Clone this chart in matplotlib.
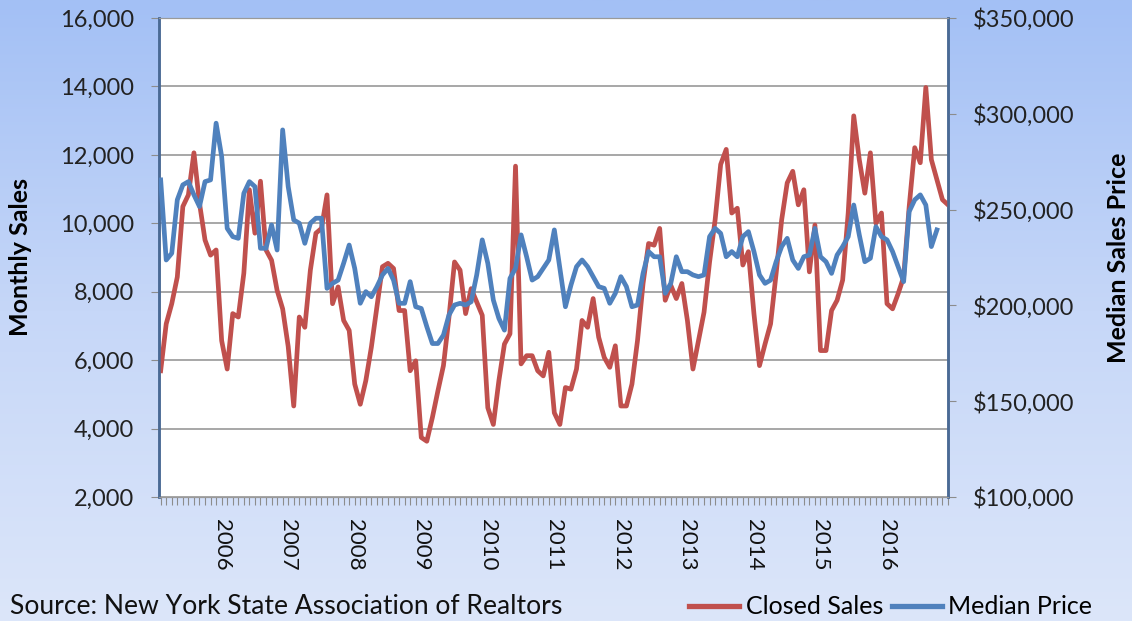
import matplotlib
matplotlib.use("Agg")
import matplotlib.pyplot as plt
import numpy as np
from matplotlib.lines import Line2D
from matplotlib.ticker import FuncFormatter, MultipleLocator, FixedLocator
from matplotlib.colors import LinearSegmentedColormap

# ---- data (monthly, Feb 2005 onward) ----
closed_sales = [
    5690, 7060, 7650, 8430, 10490, 10830, 12060, 10590, 9510, 9070, 9220, 6570,
    5740, 7360, 7260, 8540, 10980, 9710, 11230, 9220, 8920, 8040, 7500, 6400,
    4660, 7260, 6960, 8630, 9710, 9850, 10830, 7650, 8140, 7160, 6870, 5300,
    4710, 5400, 6380, 7550, 8730, 8830, 8680, 7450, 7450, 5690, 5980, 3740,
    3630, 4320, 5100, 5840, 7260, 8870, 8630, 7360, 8090, 7700, 7310, 4610,
    4120, 5400, 6470, 6770, 11670, 5890, 6130, 6130, 5690, 5540, 6230, 4460,
    4120, 5200, 5150, 5740, 7160, 6960, 7800, 6670, 6080, 5790, 6420, 4660,
    4660, 5300, 6570, 8240, 9410, 9360, 9850, 7750, 8190, 7800, 8240, 7160,
    5740, 6570, 7400, 8870, 10100, 11720, 12160, 10300, 10440, 8780, 9170, 7360,
    5840, 6470, 7060, 8530, 10100, 11180, 11520, 10540, 10980, 8580, 9950, 6280,
    6280, 7450, 7750, 8340, 10300, 13140, 11860, 10880, 12060, 10000, 10300, 7650,
    7500, 7940, 8430, 10490, 12210, 11770, 13970, 11860, 11270, 10690, 10540,
]
median_price = [
    265500, 223700, 227200, 255100, 262900, 264600, 257700, 251600, 264600, 265500, 295100, 277700,
    240200, 235900, 235000, 258500, 264600, 262000, 229800, 229800, 242000, 228900, 291600, 262000,
    244600, 242900, 232400, 242900, 245500, 245500, 208900, 211500, 213200, 222000, 231500, 219300,
    201100, 207200, 204500, 209800, 215900, 219300, 213200, 201100, 201100, 212400, 199300, 198400,
    188900, 180100, 180100, 184500, 195000, 200200, 201100, 200200, 201900, 215900, 234200, 222000,
    202800, 193200, 187100, 214100, 219300, 236800, 225400, 213200, 215000, 219300, 223700, 239400,
    219300, 199300, 210600, 220200, 223700, 220200, 215000, 209800, 208900, 201100, 206300, 215000,
    209800, 199300, 200200, 216700, 228100, 225400, 225400, 206300, 211500, 225400, 217600, 217600,
    215900, 215000, 215900, 235900, 240200, 237600, 225400, 228100, 225400, 235900, 238500, 228100,
    215900, 211500, 213200, 222800, 230700, 235000, 223700, 219300, 225400, 226300, 240200, 225400,
    222800, 216700, 226300, 230700, 235900, 252400, 236800, 222800, 224600, 241100, 235900, 234200,
    228100, 220200, 212400, 249000, 255100, 257700, 252400, 230700, 239400,
]
year_labels = ["2006", "2007", "2008", "2009", "2010", "2011", "2012",
               "2013", "2014", "2015", "2016"]
year_label_index = [11 + 12 * k for k in range(len(year_labels))]

RED = "#C0504D"
BLUE = "#4F81BD"
FONT = ["Lato", "DejaVu Sans"]
plt.rcParams["font.family"] = FONT

fig = plt.figure(figsize=(11.32, 6.21), dpi=100)

# background gradient
bg = fig.add_axes([0, 0, 1, 1], zorder=-10)
cmap = LinearSegmentedColormap.from_list("bg", ["#A3C0F5", "#C6D7F8", "#DCE6FA"])
grad = np.linspace(0, 1, 256).reshape(-1, 1)
bg.imshow(grad, aspect="auto", cmap=cmap, extent=[0, 1, 0, 1], origin="upper")
bg.set_axis_off()

L, R = 159 / 1132, 948 / 1132
B, T = 1 - 497 / 621, 1 - 18 / 621
ax = fig.add_axes([L, B, R - L, T - B])
ax.set_facecolor("white")
ax2 = ax.twinx()

x_sales = np.arange(len(closed_sales))
x_price = np.arange(len(median_price))

ax.plot(x_sales, closed_sales, color=RED, lw=3.4, solid_joinstyle="round", zorder=3)
ax2.plot(x_price, median_price, color=BLUE, lw=3.4, solid_joinstyle="round", zorder=3)

ax.set_ylim(2000, 16000)
ax2.set_ylim(100000, 350000)
ax.set_xlim(-0.3, 142)

ax.yaxis.set_major_locator(MultipleLocator(2000))
ax2.yaxis.set_major_locator(MultipleLocator(50000))
ax.yaxis.set_major_formatter(FuncFormatter(lambda v, p: f"{int(v):,}"))
ax2.yaxis.set_major_formatter(FuncFormatter(lambda v, p: f"${int(v):,}"))

ax.grid(axis="y", color="#A0A0A0", lw=1.3)
ax.set_axisbelow(True)

ax.xaxis.set_major_locator(FixedLocator(year_label_index))
ax.set_xticklabels(year_labels, rotation=-90, fontsize=16, color="#111111")
ax.xaxis.set_minor_locator(FixedLocator(np.arange(0, 143)))
ax.tick_params(axis="x", which="both", direction="out", length=6, width=0.8,
               color="#8C8C8C", pad=10)

ax.tick_params(axis="y", direction="out", length=6, width=0.8, color="#8C8C8C",
               labelsize=17, labelcolor="#222222", pad=12)
ax2.tick_params(axis="y", direction="out", length=6, width=0.8, color="#8C8C8C",
                labelsize=17, labelcolor="#222222", pad=12)

for a in (ax, ax2):
    a.spines["top"].set_color("#9A9A9A")
    a.spines["bottom"].set_color("#9A9A9A")
    a.spines["left"].set_color("#4A6A95")
    a.spines["right"].set_color("#4A6A95")
    a.spines["left"].set_linewidth(1.8)
    a.spines["right"].set_linewidth(1.8)

ax.set_ylabel("Monthly Sales", fontsize=18, fontweight="bold", labelpad=20)
ax2.set_ylabel("Median Sales Price", fontsize=18, fontweight="bold", labelpad=23)

fig.text(10 / 1132, 1 - 606 / 621, "Source: New York State Association of Realtors",
         fontsize=19.1, va="center", ha="left", color="#111111")

handles = [Line2D([], [], color=RED, lw=3.8), Line2D([], [], color=BLUE, lw=3.8)]
fig.legend(handles, ["Closed Sales", "Median Price"], ncol=2, frameon=False,
           loc="center right", bbox_to_anchor=(1092 / 1132, 1 - 607 / 621),
           fontsize=18, handlelength=2.0, handletextpad=0.25, columnspacing=0.35,
           borderpad=0, borderaxespad=0)

fig.savefig("out.png", dpi=100)
